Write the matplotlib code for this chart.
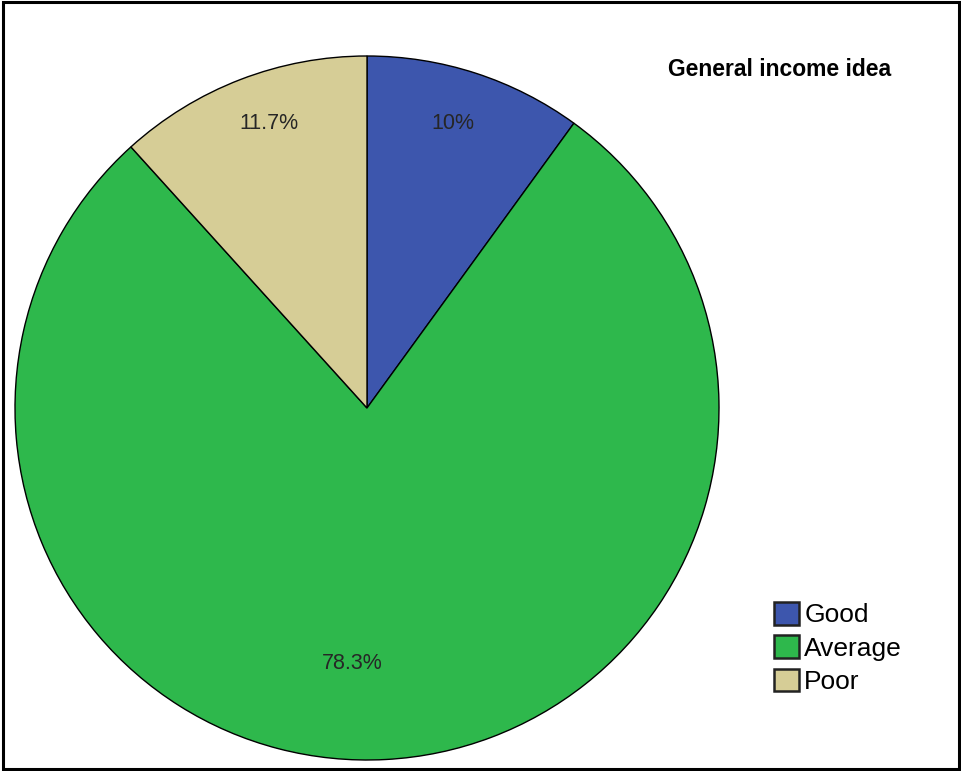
import numpy as np
import matplotlib.pyplot as plt
from matplotlib.patches import Rectangle

##################################
# DATA
##################################

categories = ["Good", "Average", "Poor"]
shares = [10.0, 78.3, 11.7]
pct_labels = ["10%", "78.3%", "11.7%"]
colors = ["#3d56ad", "#2eb84c", "#d6cd96"]

# placement of each percentage label: fraction of the radius and
# angular shift (degrees) away from the wedge's mid angle
label_r = [0.845, 0.728, 0.855]
label_dang = [1.3, -6.3, -2.0]

##################################
# PLOTTING
##################################

plt.rcParams['font.family'] = ['Liberation Sans', 'DejaVu Sans']

W, H = 962, 771
fig = plt.figure(figsize=(W / 100, H / 100), dpi=100)
fig.patch.set_facecolor("white")
ax = fig.add_axes([0, 0, 1, 1])

cx, cy, rad = 367, 363, 352
wedges, _ = ax.pie(shares, colors=colors, startangle=90, counterclock=False,
                   center=(cx, cy), radius=rad, frame=True,
                   wedgeprops=dict(edgecolor="black", linewidth=1.0))
ax.set_xlim(0, W)
ax.set_ylim(0, H)
ax.set_aspect("equal")
ax.axis("off")

for w, lab, fr, da in zip(wedges, pct_labels, label_r, label_dang):
    mid = np.deg2rad((w.theta1 + w.theta2) / 2 + da)
    ax.text(cx + fr * rad * np.cos(mid), cy + fr * rad * np.sin(mid), lab,
            ha="center", va="center", fontsize=15.5, color="#262626")

ax.text(780, 702, "General income idea", ha="center", va="center",
        fontsize=16.5, fontweight="bold", color="black")

leg = ax.legend(wedges, categories, loc="upper left",
                bbox_to_anchor=(774 / W, 1 - 602 / H), frameon=False,
                fontsize=19, handlelength=0.95, handleheight=0.95,
                handletextpad=0.2, labelspacing=0.3, borderpad=0,
                borderaxespad=0)
for h in leg.legend_handles:
    h.set_linewidth(1.8)
    h.set_edgecolor("#222222")

# outer border
fig.patches.append(Rectangle((2.5 / W, 2 / H), (W - 5) / W, (H - 4) / H,
                             transform=fig.transFigure, fill=False,
                             edgecolor="black", linewidth=2.2))

plt.savefig("out.png", dpi=100)
